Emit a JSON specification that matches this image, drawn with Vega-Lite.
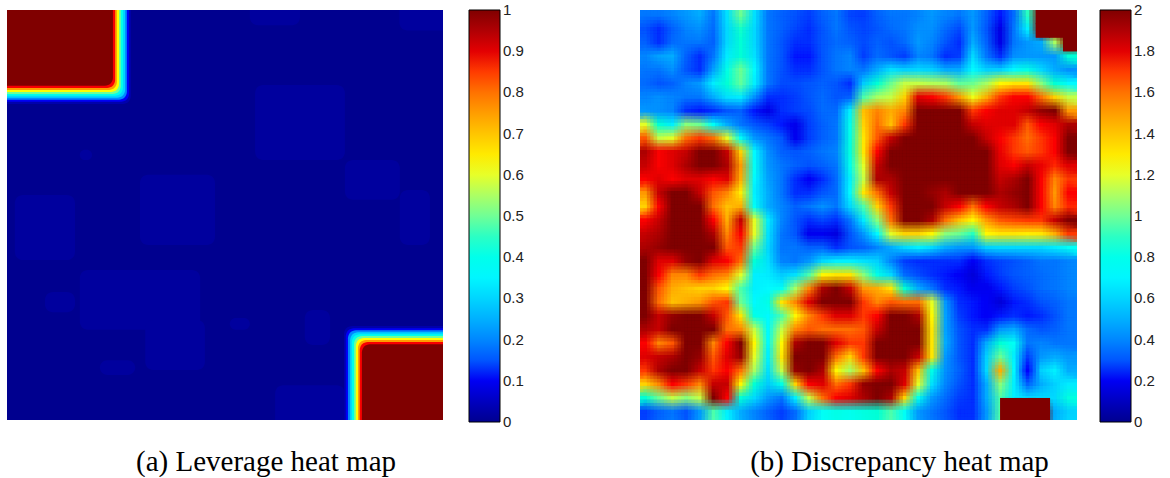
{"$schema":"https://vega.github.io/schema/vega-lite/v6.json","background":"white","padding":{"left":7,"top":10,"right":0,"bottom":0},"bounds":"flush","spacing":197,
"resolve":{"scale":{"color":"independent"},"legend":{"color":"independent"}},
"hconcat":[
{"width":436,"height":410,
"title":{"text":"(a) Leverage heat map","orient":"bottom","font":"Liberation Serif","fontSize":29,"fontWeight":"normal","color":"black","offset":18,"anchor":"middle","dx":41},
"data":{"values":[
{"x0":-5,"x1":105,"y0":-5,"y1":105,"v":0},
{"x0":56.9,"x1":77.5,"y0":18.3,"y1":36.6,"v":0.015},
{"x0":55.7,"x1":67.2,"y0":-5,"y1":3.7,"v":0.015},
{"x0":90,"x1":105,"y0":-5,"y1":5,"v":0.015},
{"x0":77.5,"x1":90.1,"y0":36.6,"y1":46.3,"v":0.015},
{"x0":90.1,"x1":97,"y0":43.9,"y1":57.3,"v":0.015},
{"x0":1.8,"x1":15.6,"y0":45.1,"y1":61,"v":0.015},
{"x0":30.5,"x1":47.7,"y0":40.2,"y1":57.3,"v":0.015},
{"x0":16.7,"x1":44.3,"y0":63.4,"y1":78,"v":0.015},
{"x0":31.7,"x1":45.4,"y0":75.6,"y1":87.8,"v":0.015},
{"x0":61.5,"x1":77.5,"y0":91.5,"y1":105,"v":0.015},
{"x0":21.3,"x1":29.4,"y0":85.4,"y1":89,"v":0.015},
{"x0":51.1,"x1":55.7,"y0":75.1,"y1":78,"v":0.015},
{"x0":8.7,"x1":15.6,"y0":68.8,"y1":73.7,"v":0.015},
{"x0":16.7,"x1":19.5,"y0":34.1,"y1":36.6,"v":0.015},
{"x0":68.3,"x1":74.1,"y0":73.2,"y1":81.7,"v":0.015},
{"x0":-5,"x1":28.4,"y0":-5,"y1":22.9,"v":0.03},
{"x0":-5,"x1":28.0,"y0":-5,"y1":22.4,"v":0.1},
{"x0":-5,"x1":27.5,"y0":-5,"y1":21.9,"v":0.2},
{"x0":-5,"x1":27.1,"y0":-5,"y1":21.4,"v":0.3},
{"x0":-5,"x1":26.6,"y0":-5,"y1":20.9,"v":0.4},
{"x0":-5,"x1":26.1,"y0":-5,"y1":20.5,"v":0.5},
{"x0":-5,"x1":25.7,"y0":-5,"y1":20.0,"v":0.62},
{"x0":-5,"x1":25.2,"y0":-5,"y1":19.5,"v":0.75},
{"x0":-5,"x1":24.8,"y0":-5,"y1":19.0,"v":0.88},
{"x0":-5,"x1":24.3,"y0":-5,"y1":18.5,"v":1},
{"x0":77.3,"x1":105,"y0":77.1,"y1":105,"v":0.03},
{"x0":77.7,"x1":105,"y0":77.6,"y1":105,"v":0.1},
{"x0":78.2,"x1":105,"y0":78.1,"y1":105,"v":0.2},
{"x0":78.7,"x1":105,"y0":78.6,"y1":105,"v":0.3},
{"x0":79.1,"x1":105,"y0":79.1,"y1":105,"v":0.4},
{"x0":79.6,"x1":105,"y0":79.5,"y1":105,"v":0.5},
{"x0":80.0,"x1":105,"y0":80.0,"y1":105,"v":0.62},
{"x0":80.5,"x1":105,"y0":80.5,"y1":105,"v":0.75},
{"x0":80.9,"x1":105,"y0":81.0,"y1":105,"v":0.88},
{"x0":81.4,"x1":105,"y0":81.5,"y1":105,"v":1}
]},
"mark":{"type":"rect","clip":true,"cornerRadius":8},
"encoding":{
"x":{"field":"x0","type":"quantitative","axis":null,"scale":{"domain":[0,100],"nice":false,"zero":false}},
"x2":{"field":"x1"},
"y":{"field":"y0","type":"quantitative","axis":null,"scale":{"domain":[0,100],"reverse":true,"nice":false,"zero":false}},
"y2":{"field":"y1"},
"color":{"field":"v","type":"quantitative","scale":{"domain":[0,0.11,0.365,0.62,0.873,1],"range":["#00008f","#0000ff","#00ffff","#ffff00","#ff0000","#800000"]},
"legend":{"orient":"none","legendX":462,"legendY":0,"title":null,"type":"gradient","direction":"vertical","gradientLength":412,"gradientThickness":31,"gradientStrokeColor":"black","gradientStrokeWidth":1,"values":[0,0.1,0.2,0.3,0.4,0.5,0.6,0.7,0.8,0.9,1],"labelFont":"Liberation Sans","labelFontSize":15,"labelColor":"#222222","labelOffset":3,"labelOverlap":false,"format":"~g","encoding":{"labels":{"baseline":{"value":"middle"}}}}}
}},
{"width":437,"height":410,
"title":{"text":"(b) Discrepancy heat map","orient":"bottom","font":"Liberation Serif","fontSize":29,"fontWeight":"normal","color":"black","offset":18,"anchor":"middle","dx":41},
"data":{"values":[
{"c":0,"r":0,"v":0.37},{"c":1,"r":0,"v":0.37},{"c":2,"r":0,"v":0.4},{"c":3,"r":0,"v":0.45},{"c":4,"r":0,"v":0.5},{"c":5,"r":0,"v":0.37},{"c":6,"r":0,"v":0.65},{"c":7,"r":0,"v":1.0},{"c":8,"r":0,"v":0.65},{"c":9,"r":0,"v":0.37},{"c":10,"r":0,"v":0.33},{"c":11,"r":0,"v":0.3},{"c":12,"r":0,"v":0.27},{"c":13,"r":0,"v":0.33},{"c":14,"r":0,"v":0.37},{"c":15,"r":0,"v":0.28},{"c":16,"r":0,"v":0.27},{"c":17,"r":0,"v":0.33},{"c":18,"r":0,"v":0.37},{"c":19,"r":0,"v":0.37},{"c":20,"r":0,"v":0.4},{"c":21,"r":0,"v":0.45},{"c":22,"r":0,"v":0.4},{"c":23,"r":0,"v":0.37},{"c":24,"r":0,"v":0.45},{"c":25,"r":0,"v":0.33},{"c":26,"r":0,"v":0.23},{"c":27,"r":0,"v":0.35},{"c":28,"r":0,"v":0.9},{"c":29,"r":0,"v":2},{"c":30,"r":0,"v":2},{"c":31,"r":0,"v":2},
{"c":0,"r":1,"v":0.3},{"c":1,"r":1,"v":0.25},{"c":2,"r":1,"v":0.33},{"c":3,"r":1,"v":0.4},{"c":4,"r":1,"v":0.43},{"c":5,"r":1,"v":0.35},{"c":6,"r":1,"v":0.62},{"c":7,"r":1,"v":0.88},{"c":8,"r":1,"v":0.62},{"c":9,"r":1,"v":0.37},{"c":10,"r":1,"v":0.33},{"c":11,"r":1,"v":0.28},{"c":12,"r":1,"v":0.25},{"c":13,"r":1,"v":0.31},{"c":14,"r":1,"v":0.37},{"c":15,"r":1,"v":0.31},{"c":16,"r":1,"v":0.28},{"c":17,"r":1,"v":0.31},{"c":18,"r":1,"v":0.35},{"c":19,"r":1,"v":0.37},{"c":20,"r":1,"v":0.43},{"c":21,"r":1,"v":0.43},{"c":22,"r":1,"v":0.35},{"c":23,"r":1,"v":0.29},{"c":24,"r":1,"v":0.45},{"c":25,"r":1,"v":0.31},{"c":26,"r":1,"v":0.18},{"c":27,"r":1,"v":0.37},{"c":28,"r":1,"v":0.7},{"c":29,"r":1,"v":2},{"c":30,"r":1,"v":2},{"c":31,"r":1,"v":2},
{"c":0,"r":2,"v":0.33},{"c":1,"r":2,"v":0.25},{"c":2,"r":2,"v":0.35},{"c":3,"r":2,"v":0.37},{"c":4,"r":2,"v":0.37},{"c":5,"r":2,"v":0.33},{"c":6,"r":2,"v":0.62},{"c":7,"r":2,"v":0.85},{"c":8,"r":2,"v":0.62},{"c":9,"r":2,"v":0.37},{"c":10,"r":2,"v":0.31},{"c":11,"r":2,"v":0.25},{"c":12,"r":2,"v":0.25},{"c":13,"r":2,"v":0.31},{"c":14,"r":2,"v":0.35},{"c":15,"r":2,"v":0.33},{"c":16,"r":2,"v":0.29},{"c":17,"r":2,"v":0.33},{"c":18,"r":2,"v":0.3},{"c":19,"r":2,"v":0.35},{"c":20,"r":2,"v":0.45},{"c":21,"r":2,"v":0.4},{"c":22,"r":2,"v":0.31},{"c":23,"r":2,"v":0.25},{"c":24,"r":2,"v":0.5},{"c":25,"r":2,"v":0.33},{"c":26,"r":2,"v":0.18},{"c":27,"r":2,"v":0.37},{"c":28,"r":2,"v":0.45},{"c":29,"r":2,"v":0.5},{"c":30,"r":2,"v":1.1},{"c":31,"r":2,"v":2},
{"c":0,"r":3,"v":0.4},{"c":1,"r":3,"v":0.47},{"c":2,"r":3,"v":0.5},{"c":3,"r":3,"v":0.33},{"c":4,"r":3,"v":0.25},{"c":5,"r":3,"v":0.37},{"c":6,"r":3,"v":0.68},{"c":7,"r":3,"v":0.85},{"c":8,"r":3,"v":0.65},{"c":9,"r":3,"v":0.37},{"c":10,"r":3,"v":0.31},{"c":11,"r":3,"v":0.23},{"c":12,"r":3,"v":0.23},{"c":13,"r":3,"v":0.31},{"c":14,"r":3,"v":0.37},{"c":15,"r":3,"v":0.4},{"c":16,"r":3,"v":0.27},{"c":17,"r":3,"v":0.35},{"c":18,"r":3,"v":0.31},{"c":19,"r":3,"v":0.27},{"c":20,"r":3,"v":0.4},{"c":21,"r":3,"v":0.37},{"c":22,"r":3,"v":0.25},{"c":23,"r":3,"v":0.27},{"c":24,"r":3,"v":0.62},{"c":25,"r":3,"v":0.37},{"c":26,"r":3,"v":0.25},{"c":27,"r":3,"v":0.43},{"c":28,"r":3,"v":0.45},{"c":29,"r":3,"v":0.45},{"c":30,"r":3,"v":0.45},{"c":31,"r":3,"v":0.85},
{"c":0,"r":4,"v":0.37},{"c":1,"r":4,"v":0.37},{"c":2,"r":4,"v":0.43},{"c":3,"r":4,"v":0.31},{"c":4,"r":4,"v":0.25},{"c":5,"r":4,"v":0.47},{"c":6,"r":4,"v":0.8},{"c":7,"r":4,"v":1.0},{"c":8,"r":4,"v":0.72},{"c":9,"r":4,"v":0.37},{"c":10,"r":4,"v":0.3},{"c":11,"r":4,"v":0.25},{"c":12,"r":4,"v":0.25},{"c":13,"r":4,"v":0.31},{"c":14,"r":4,"v":0.37},{"c":15,"r":4,"v":0.4},{"c":16,"r":4,"v":0.37},{"c":17,"r":4,"v":0.5},{"c":18,"r":4,"v":0.65},{"c":19,"r":4,"v":0.6},{"c":20,"r":4,"v":0.62},{"c":21,"r":4,"v":0.6},{"c":22,"r":4,"v":0.5},{"c":23,"r":4,"v":0.5},{"c":24,"r":4,"v":0.72},{"c":25,"r":4,"v":0.6},{"c":26,"r":4,"v":0.6},{"c":27,"r":4,"v":0.72},{"c":28,"r":4,"v":0.8},{"c":29,"r":4,"v":0.62},{"c":30,"r":4,"v":0.5},{"c":31,"r":4,"v":0.43},
{"c":0,"r":5,"v":0.35},{"c":1,"r":5,"v":0.31},{"c":2,"r":5,"v":0.33},{"c":3,"r":5,"v":0.4},{"c":4,"r":5,"v":0.45},{"c":5,"r":5,"v":0.68},{"c":6,"r":5,"v":0.85},{"c":7,"r":5,"v":0.98},{"c":8,"r":5,"v":0.7},{"c":9,"r":5,"v":0.37},{"c":10,"r":5,"v":0.29},{"c":11,"r":5,"v":0.29},{"c":12,"r":5,"v":0.31},{"c":13,"r":5,"v":0.33},{"c":14,"r":5,"v":0.31},{"c":15,"r":5,"v":0.25},{"c":16,"r":5,"v":0.58},{"c":17,"r":5,"v":0.85},{"c":18,"r":5,"v":1.0},{"c":19,"r":5,"v":1.15},{"c":20,"r":5,"v":1.15},{"c":21,"r":5,"v":1.12},{"c":22,"r":5,"v":1.1},{"c":23,"r":5,"v":0.98},{"c":24,"r":5,"v":1.0},{"c":25,"r":5,"v":1.1},{"c":26,"r":5,"v":1.25},{"c":27,"r":5,"v":1.3},{"c":28,"r":5,"v":1.3},{"c":29,"r":5,"v":1.05},{"c":30,"r":5,"v":0.85},{"c":31,"r":5,"v":0.72},
{"c":0,"r":6,"v":0.4},{"c":1,"r":6,"v":0.43},{"c":2,"r":6,"v":0.4},{"c":3,"r":6,"v":0.37},{"c":4,"r":6,"v":0.37},{"c":5,"r":6,"v":0.5},{"c":6,"r":6,"v":0.65},{"c":7,"r":6,"v":0.68},{"c":8,"r":6,"v":0.43},{"c":9,"r":6,"v":0.25},{"c":10,"r":6,"v":0.25},{"c":11,"r":6,"v":0.27},{"c":12,"r":6,"v":0.31},{"c":13,"r":6,"v":0.35},{"c":14,"r":6,"v":0.31},{"c":15,"r":6,"v":0.33},{"c":16,"r":6,"v":0.95},{"c":17,"r":6,"v":1.1},{"c":18,"r":6,"v":1.15},{"c":19,"r":6,"v":1.35},{"c":20,"r":6,"v":1.8},{"c":21,"r":6,"v":1.75},{"c":22,"r":6,"v":1.7},{"c":23,"r":6,"v":1.5},{"c":24,"r":6,"v":1.22},{"c":25,"r":6,"v":1.45},{"c":26,"r":6,"v":1.7},{"c":27,"r":6,"v":1.75},{"c":28,"r":6,"v":1.75},{"c":29,"r":6,"v":1.6},{"c":30,"r":6,"v":1.35},{"c":31,"r":6,"v":1.15},
{"c":0,"r":7,"v":0.45},{"c":1,"r":7,"v":0.43},{"c":2,"r":7,"v":0.4},{"c":3,"r":7,"v":0.25},{"c":4,"r":7,"v":0.23},{"c":5,"r":7,"v":0.25},{"c":6,"r":7,"v":0.31},{"c":7,"r":7,"v":0.33},{"c":8,"r":7,"v":0.23},{"c":9,"r":7,"v":0.18},{"c":10,"r":7,"v":0.25},{"c":11,"r":7,"v":0.27},{"c":12,"r":7,"v":0.29},{"c":13,"r":7,"v":0.35},{"c":14,"r":7,"v":0.35},{"c":15,"r":7,"v":0.7},{"c":16,"r":7,"v":1.4},{"c":17,"r":7,"v":1.55},{"c":18,"r":7,"v":1.45},{"c":19,"r":7,"v":1.55},{"c":20,"r":7,"v":2},{"c":21,"r":7,"v":2},{"c":22,"r":7,"v":2},{"c":23,"r":7,"v":2},{"c":24,"r":7,"v":1.7},{"c":25,"r":7,"v":1.75},{"c":26,"r":7,"v":1.8},{"c":27,"r":7,"v":1.8},{"c":28,"r":7,"v":1.85},{"c":29,"r":7,"v":1.95},{"c":30,"r":7,"v":2},{"c":31,"r":7,"v":1.5},
{"c":0,"r":8,"v":1.2},{"c":1,"r":8,"v":0.85},{"c":2,"r":8,"v":0.7},{"c":3,"r":8,"v":1.05},{"c":4,"r":8,"v":1.0},{"c":5,"r":8,"v":0.75},{"c":6,"r":8,"v":0.5},{"c":7,"r":8,"v":0.37},{"c":8,"r":8,"v":0.31},{"c":9,"r":8,"v":0.27},{"c":10,"r":8,"v":0.23},{"c":11,"r":8,"v":0.19},{"c":12,"r":8,"v":0.27},{"c":13,"r":8,"v":0.33},{"c":14,"r":8,"v":0.37},{"c":15,"r":8,"v":0.78},{"c":16,"r":8,"v":1.35},{"c":17,"r":8,"v":1.6},{"c":18,"r":8,"v":1.4},{"c":19,"r":8,"v":1.7},{"c":20,"r":8,"v":2},{"c":21,"r":8,"v":2},{"c":22,"r":8,"v":2},{"c":23,"r":8,"v":2},{"c":24,"r":8,"v":1.85},{"c":25,"r":8,"v":1.8},{"c":26,"r":8,"v":1.8},{"c":27,"r":8,"v":1.8},{"c":28,"r":8,"v":1.65},{"c":29,"r":8,"v":1.75},{"c":30,"r":8,"v":1.8},{"c":31,"r":8,"v":1.9},
{"c":0,"r":9,"v":1.65},{"c":1,"r":9,"v":1.15},{"c":2,"r":9,"v":1.2},{"c":3,"r":9,"v":1.6},{"c":4,"r":9,"v":1.7},{"c":5,"r":9,"v":1.6},{"c":6,"r":9,"v":1.2},{"c":7,"r":9,"v":0.75},{"c":8,"r":9,"v":0.45},{"c":9,"r":9,"v":0.37},{"c":10,"r":9,"v":0.31},{"c":11,"r":9,"v":0.2},{"c":12,"r":9,"v":0.27},{"c":13,"r":9,"v":0.33},{"c":14,"r":9,"v":0.37},{"c":15,"r":9,"v":0.8},{"c":16,"r":9,"v":1.3},{"c":17,"r":9,"v":1.65},{"c":18,"r":9,"v":1.85},{"c":19,"r":9,"v":2},{"c":20,"r":9,"v":2},{"c":21,"r":9,"v":2},{"c":22,"r":9,"v":2},{"c":23,"r":9,"v":2},{"c":24,"r":9,"v":2},{"c":25,"r":9,"v":1.85},{"c":26,"r":9,"v":1.75},{"c":27,"r":9,"v":1.7},{"c":28,"r":9,"v":1.6},{"c":29,"r":9,"v":1.7},{"c":30,"r":9,"v":1.75},{"c":31,"r":9,"v":2},
{"c":0,"r":10,"v":1.9},{"c":1,"r":10,"v":1.75},{"c":2,"r":10,"v":1.8},{"c":3,"r":10,"v":1.85},{"c":4,"r":10,"v":2},{"c":5,"r":10,"v":2},{"c":6,"r":10,"v":1.85},{"c":7,"r":10,"v":1.35},{"c":8,"r":10,"v":0.72},{"c":9,"r":10,"v":0.43},{"c":10,"r":10,"v":0.33},{"c":11,"r":10,"v":0.31},{"c":12,"r":10,"v":0.33},{"c":13,"r":10,"v":0.37},{"c":14,"r":10,"v":0.4},{"c":15,"r":10,"v":0.82},{"c":16,"r":10,"v":1.3},{"c":17,"r":10,"v":1.75},{"c":18,"r":10,"v":2},{"c":19,"r":10,"v":2},{"c":20,"r":10,"v":2},{"c":21,"r":10,"v":2},{"c":22,"r":10,"v":2},{"c":23,"r":10,"v":2},{"c":24,"r":10,"v":2},{"c":25,"r":10,"v":2},{"c":26,"r":10,"v":1.78},{"c":27,"r":10,"v":1.7},{"c":28,"r":10,"v":1.65},{"c":29,"r":10,"v":1.7},{"c":30,"r":10,"v":1.75},{"c":31,"r":10,"v":2},
{"c":0,"r":11,"v":1.85},{"c":1,"r":11,"v":1.75},{"c":2,"r":11,"v":1.8},{"c":3,"r":11,"v":1.9},{"c":4,"r":11,"v":2},{"c":5,"r":11,"v":2},{"c":6,"r":11,"v":1.9},{"c":7,"r":11,"v":1.5},{"c":8,"r":11,"v":0.75},{"c":9,"r":11,"v":0.45},{"c":10,"r":11,"v":0.37},{"c":11,"r":11,"v":0.33},{"c":12,"r":11,"v":0.3},{"c":13,"r":11,"v":0.33},{"c":14,"r":11,"v":0.37},{"c":15,"r":11,"v":0.78},{"c":16,"r":11,"v":1.2},{"c":17,"r":11,"v":1.85},{"c":18,"r":11,"v":2},{"c":19,"r":11,"v":2},{"c":20,"r":11,"v":2},{"c":21,"r":11,"v":2},{"c":22,"r":11,"v":2},{"c":23,"r":11,"v":2},{"c":24,"r":11,"v":2},{"c":25,"r":11,"v":2},{"c":26,"r":11,"v":1.8},{"c":27,"r":11,"v":1.75},{"c":28,"r":11,"v":1.85},{"c":29,"r":11,"v":1.78},{"c":30,"r":11,"v":1.72},{"c":31,"r":11,"v":1.8},
{"c":0,"r":12,"v":1.75},{"c":1,"r":12,"v":1.8},{"c":2,"r":12,"v":1.75},{"c":3,"r":12,"v":1.8},{"c":4,"r":12,"v":1.8},{"c":5,"r":12,"v":1.75},{"c":6,"r":12,"v":1.8},{"c":7,"r":12,"v":1.45},{"c":8,"r":12,"v":0.72},{"c":9,"r":12,"v":0.47},{"c":10,"r":12,"v":0.37},{"c":11,"r":12,"v":0.25},{"c":12,"r":12,"v":0.21},{"c":13,"r":12,"v":0.25},{"c":14,"r":12,"v":0.35},{"c":15,"r":12,"v":0.7},{"c":16,"r":12,"v":1.15},{"c":17,"r":12,"v":1.9},{"c":18,"r":12,"v":1.9},{"c":19,"r":12,"v":2},{"c":20,"r":12,"v":2},{"c":21,"r":12,"v":2},{"c":22,"r":12,"v":2},{"c":23,"r":12,"v":2},{"c":24,"r":12,"v":2},{"c":25,"r":12,"v":2},{"c":26,"r":12,"v":1.85},{"c":27,"r":12,"v":1.9},{"c":28,"r":12,"v":2},{"c":29,"r":12,"v":1.75},{"c":30,"r":12,"v":1.55},{"c":31,"r":12,"v":1.7},
{"c":0,"r":13,"v":1.5},{"c":1,"r":13,"v":1.85},{"c":2,"r":13,"v":2},{"c":3,"r":13,"v":2},{"c":4,"r":13,"v":1.85},{"c":5,"r":13,"v":1.65},{"c":6,"r":13,"v":1.55},{"c":7,"r":13,"v":1.28},{"c":8,"r":13,"v":0.7},{"c":9,"r":13,"v":0.5},{"c":10,"r":13,"v":0.37},{"c":11,"r":13,"v":0.25},{"c":12,"r":13,"v":0.25},{"c":13,"r":13,"v":0.31},{"c":14,"r":13,"v":0.35},{"c":15,"r":13,"v":0.72},{"c":16,"r":13,"v":1.3},{"c":17,"r":13,"v":1.6},{"c":18,"r":13,"v":1.85},{"c":19,"r":13,"v":2},{"c":20,"r":13,"v":2},{"c":21,"r":13,"v":1.95},{"c":22,"r":13,"v":1.9},{"c":23,"r":13,"v":2},{"c":24,"r":13,"v":2},{"c":25,"r":13,"v":2},{"c":26,"r":13,"v":1.9},{"c":27,"r":13,"v":1.95},{"c":28,"r":13,"v":2},{"c":29,"r":13,"v":1.75},{"c":30,"r":13,"v":1.5},{"c":31,"r":13,"v":1.75},
{"c":0,"r":14,"v":1.35},{"c":1,"r":14,"v":1.75},{"c":2,"r":14,"v":2},{"c":3,"r":14,"v":2},{"c":4,"r":14,"v":2},{"c":5,"r":14,"v":1.6},{"c":6,"r":14,"v":1.4},{"c":7,"r":14,"v":1.45},{"c":8,"r":14,"v":0.75},{"c":9,"r":14,"v":0.5},{"c":10,"r":14,"v":0.4},{"c":11,"r":14,"v":0.33},{"c":12,"r":14,"v":0.37},{"c":13,"r":14,"v":0.43},{"c":14,"r":14,"v":0.37},{"c":15,"r":14,"v":0.62},{"c":16,"r":14,"v":0.95},{"c":17,"r":14,"v":1.35},{"c":18,"r":14,"v":1.7},{"c":19,"r":14,"v":2},{"c":20,"r":14,"v":2},{"c":21,"r":14,"v":2},{"c":22,"r":14,"v":1.85},{"c":23,"r":14,"v":1.75},{"c":24,"r":14,"v":1.6},{"c":25,"r":14,"v":1.75},{"c":26,"r":14,"v":1.85},{"c":27,"r":14,"v":1.9},{"c":28,"r":14,"v":2},{"c":29,"r":14,"v":1.75},{"c":30,"r":14,"v":1.55},{"c":31,"r":14,"v":1.72},
{"c":0,"r":15,"v":1.75},{"c":1,"r":15,"v":1.85},{"c":2,"r":15,"v":2},{"c":3,"r":15,"v":2},{"c":4,"r":15,"v":2},{"c":5,"r":15,"v":1.75},{"c":6,"r":15,"v":1.45},{"c":7,"r":15,"v":1.85},{"c":8,"r":15,"v":1.2},{"c":9,"r":15,"v":0.68},{"c":10,"r":15,"v":0.4},{"c":11,"r":15,"v":0.31},{"c":12,"r":15,"v":0.25},{"c":13,"r":15,"v":0.28},{"c":14,"r":15,"v":0.25},{"c":15,"r":15,"v":0.37},{"c":16,"r":15,"v":0.68},{"c":17,"r":15,"v":1.05},{"c":18,"r":15,"v":1.6},{"c":19,"r":15,"v":2},{"c":20,"r":15,"v":2},{"c":21,"r":15,"v":1.9},{"c":22,"r":15,"v":1.6},{"c":23,"r":15,"v":1.4},{"c":24,"r":15,"v":1.25},{"c":25,"r":15,"v":1.5},{"c":26,"r":15,"v":1.65},{"c":27,"r":15,"v":1.68},{"c":28,"r":15,"v":1.7},{"c":29,"r":15,"v":1.7},{"c":30,"r":15,"v":1.85},{"c":31,"r":15,"v":2},
{"c":0,"r":16,"v":1.85},{"c":1,"r":16,"v":1.9},{"c":2,"r":16,"v":2},{"c":3,"r":16,"v":2},{"c":4,"r":16,"v":2},{"c":5,"r":16,"v":1.9},{"c":6,"r":16,"v":1.55},{"c":7,"r":16,"v":1.75},{"c":8,"r":16,"v":1.2},{"c":9,"r":16,"v":0.65},{"c":10,"r":16,"v":0.37},{"c":11,"r":16,"v":0.31},{"c":12,"r":16,"v":0.2},{"c":13,"r":16,"v":0.2},{"c":14,"r":16,"v":0.17},{"c":15,"r":16,"v":0.3},{"c":16,"r":16,"v":0.45},{"c":17,"r":16,"v":0.72},{"c":18,"r":16,"v":1.2},{"c":19,"r":16,"v":1.35},{"c":20,"r":16,"v":1.35},{"c":21,"r":16,"v":1.25},{"c":22,"r":16,"v":1.05},{"c":23,"r":16,"v":1.0},{"c":24,"r":16,"v":0.9},{"c":25,"r":16,"v":1.25},{"c":26,"r":16,"v":1.3},{"c":27,"r":16,"v":1.3},{"c":28,"r":16,"v":1.28},{"c":29,"r":16,"v":1.3},{"c":30,"r":16,"v":1.45},{"c":31,"r":16,"v":1.7},
{"c":0,"r":17,"v":1.9},{"c":1,"r":17,"v":1.95},{"c":2,"r":17,"v":2},{"c":3,"r":17,"v":2},{"c":4,"r":17,"v":2},{"c":5,"r":17,"v":2},{"c":6,"r":17,"v":1.65},{"c":7,"r":17,"v":1.7},{"c":8,"r":17,"v":1.0},{"c":9,"r":17,"v":0.62},{"c":10,"r":17,"v":0.37},{"c":11,"r":17,"v":0.37},{"c":12,"r":17,"v":0.33},{"c":13,"r":17,"v":0.33},{"c":14,"r":17,"v":0.25},{"c":15,"r":17,"v":0.3},{"c":16,"r":17,"v":0.33},{"c":17,"r":17,"v":0.4},{"c":18,"r":17,"v":0.5},{"c":19,"r":17,"v":0.62},{"c":20,"r":17,"v":0.7},{"c":21,"r":17,"v":0.62},{"c":22,"r":17,"v":0.5},{"c":23,"r":17,"v":0.45},{"c":24,"r":17,"v":0.45},{"c":25,"r":17,"v":0.6},{"c":26,"r":17,"v":0.62},{"c":27,"r":17,"v":0.62},{"c":28,"r":17,"v":0.62},{"c":29,"r":17,"v":0.62},{"c":30,"r":17,"v":0.68},{"c":31,"r":17,"v":0.75},
{"c":0,"r":18,"v":2},{"c":1,"r":18,"v":1.8},{"c":2,"r":18,"v":1.8},{"c":3,"r":18,"v":1.95},{"c":4,"r":18,"v":2},{"c":5,"r":18,"v":1.8},{"c":6,"r":18,"v":1.75},{"c":7,"r":18,"v":1.6},{"c":8,"r":18,"v":0.85},{"c":9,"r":18,"v":0.65},{"c":10,"r":18,"v":0.4},{"c":11,"r":18,"v":0.37},{"c":12,"r":18,"v":0.45},{"c":13,"r":18,"v":0.62},{"c":14,"r":18,"v":0.7},{"c":15,"r":18,"v":0.7},{"c":16,"r":18,"v":0.65},{"c":17,"r":18,"v":0.6},{"c":18,"r":18,"v":0.4},{"c":19,"r":18,"v":0.27},{"c":20,"r":18,"v":0.25},{"c":21,"r":18,"v":0.25},{"c":22,"r":18,"v":0.25},{"c":23,"r":18,"v":0.25},{"c":24,"r":18,"v":0.21},{"c":25,"r":18,"v":0.25},{"c":26,"r":18,"v":0.28},{"c":27,"r":18,"v":0.3},{"c":28,"r":18,"v":0.33},{"c":29,"r":18,"v":0.37},{"c":30,"r":18,"v":0.37},{"c":31,"r":18,"v":0.4},
{"c":0,"r":19,"v":2},{"c":1,"r":19,"v":1.75},{"c":2,"r":19,"v":1.55},{"c":3,"r":19,"v":1.55},{"c":4,"r":19,"v":1.7},{"c":5,"r":19,"v":1.6},{"c":6,"r":19,"v":1.55},{"c":7,"r":19,"v":1.2},{"c":8,"r":19,"v":0.7},{"c":9,"r":19,"v":0.68},{"c":10,"r":19,"v":0.58},{"c":11,"r":19,"v":0.65},{"c":12,"r":19,"v":0.95},{"c":13,"r":19,"v":1.25},{"c":14,"r":19,"v":1.3},{"c":15,"r":19,"v":1.3},{"c":16,"r":19,"v":1.05},{"c":17,"r":19,"v":0.8},{"c":18,"r":19,"v":0.62},{"c":19,"r":19,"v":0.35},{"c":20,"r":19,"v":0.29},{"c":21,"r":19,"v":0.25},{"c":22,"r":19,"v":0.23},{"c":23,"r":19,"v":0.21},{"c":24,"r":19,"v":0.16},{"c":25,"r":19,"v":0.23},{"c":26,"r":19,"v":0.27},{"c":27,"r":19,"v":0.31},{"c":28,"r":19,"v":0.33},{"c":29,"r":19,"v":0.35},{"c":30,"r":19,"v":0.37},{"c":31,"r":19,"v":0.4},
{"c":0,"r":20,"v":2},{"c":1,"r":20,"v":1.65},{"c":2,"r":20,"v":1.45},{"c":3,"r":20,"v":1.4},{"c":4,"r":20,"v":1.35},{"c":5,"r":20,"v":1.35},{"c":6,"r":20,"v":1.25},{"c":7,"r":20,"v":0.95},{"c":8,"r":20,"v":0.7},{"c":9,"r":20,"v":0.72},{"c":10,"r":20,"v":0.75},{"c":11,"r":20,"v":1.1},{"c":12,"r":20,"v":1.55},{"c":13,"r":20,"v":1.9},{"c":14,"r":20,"v":2},{"c":15,"r":20,"v":1.85},{"c":16,"r":20,"v":1.5},{"c":17,"r":20,"v":1.45},{"c":18,"r":20,"v":1.3},{"c":19,"r":20,"v":0.85},{"c":20,"r":20,"v":0.5},{"c":21,"r":20,"v":0.37},{"c":22,"r":20,"v":0.25},{"c":23,"r":20,"v":0.23},{"c":24,"r":20,"v":0.2},{"c":25,"r":20,"v":0.2},{"c":26,"r":20,"v":0.23},{"c":27,"r":20,"v":0.27},{"c":28,"r":20,"v":0.3},{"c":29,"r":20,"v":0.35},{"c":30,"r":20,"v":0.37},{"c":31,"r":20,"v":0.4},
{"c":0,"r":21,"v":2},{"c":1,"r":21,"v":1.6},{"c":2,"r":21,"v":1.4},{"c":3,"r":21,"v":1.45},{"c":4,"r":21,"v":1.5},{"c":5,"r":21,"v":1.65},{"c":6,"r":21,"v":1.7},{"c":7,"r":21,"v":1.0},{"c":8,"r":21,"v":0.72},{"c":9,"r":21,"v":0.8},{"c":10,"r":21,"v":1.3},{"c":11,"r":21,"v":1.55},{"c":12,"r":21,"v":1.8},{"c":13,"r":21,"v":2},{"c":14,"r":21,"v":2},{"c":15,"r":21,"v":2},{"c":16,"r":21,"v":1.7},{"c":17,"r":21,"v":1.55},{"c":18,"r":21,"v":1.65},{"c":19,"r":21,"v":1.6},{"c":20,"r":21,"v":1.6},{"c":21,"r":21,"v":1.2},{"c":22,"r":21,"v":0.45},{"c":23,"r":21,"v":0.25},{"c":24,"r":21,"v":0.23},{"c":25,"r":21,"v":0.21},{"c":26,"r":21,"v":0.16},{"c":27,"r":21,"v":0.23},{"c":28,"r":21,"v":0.25},{"c":29,"r":21,"v":0.3},{"c":30,"r":21,"v":0.33},{"c":31,"r":21,"v":0.37},
{"c":0,"r":22,"v":2},{"c":1,"r":22,"v":1.85},{"c":2,"r":22,"v":1.95},{"c":3,"r":22,"v":2},{"c":4,"r":22,"v":2},{"c":5,"r":22,"v":1.85},{"c":6,"r":22,"v":1.65},{"c":7,"r":22,"v":1.3},{"c":8,"r":22,"v":0.8},{"c":9,"r":22,"v":0.72},{"c":10,"r":22,"v":0.95},{"c":11,"r":22,"v":1.25},{"c":12,"r":22,"v":1.55},{"c":13,"r":22,"v":1.7},{"c":14,"r":22,"v":1.8},{"c":15,"r":22,"v":1.8},{"c":16,"r":22,"v":1.7},{"c":17,"r":22,"v":1.75},{"c":18,"r":22,"v":2},{"c":19,"r":22,"v":2},{"c":20,"r":22,"v":1.9},{"c":21,"r":22,"v":1.25},{"c":22,"r":22,"v":0.47},{"c":23,"r":22,"v":0.27},{"c":24,"r":22,"v":0.23},{"c":25,"r":22,"v":0.21},{"c":26,"r":22,"v":0.23},{"c":27,"r":22,"v":0.25},{"c":28,"r":22,"v":0.23},{"c":29,"r":22,"v":0.25},{"c":30,"r":22,"v":0.3},{"c":31,"r":22,"v":0.37},
{"c":0,"r":23,"v":1.9},{"c":1,"r":23,"v":1.85},{"c":2,"r":23,"v":2},{"c":3,"r":23,"v":2},{"c":4,"r":23,"v":2},{"c":5,"r":23,"v":2},{"c":6,"r":23,"v":1.6},{"c":7,"r":23,"v":1.55},{"c":8,"r":23,"v":1.15},{"c":9,"r":23,"v":0.72},{"c":10,"r":23,"v":1.15},{"c":11,"r":23,"v":1.55},{"c":12,"r":23,"v":1.65},{"c":13,"r":23,"v":1.6},{"c":14,"r":23,"v":1.6},{"c":15,"r":23,"v":1.6},{"c":16,"r":23,"v":1.65},{"c":17,"r":23,"v":1.85},{"c":18,"r":23,"v":2},{"c":19,"r":23,"v":2},{"c":20,"r":23,"v":2},{"c":21,"r":23,"v":1.3},{"c":22,"r":23,"v":0.47},{"c":23,"r":23,"v":0.3},{"c":24,"r":23,"v":0.25},{"c":25,"r":23,"v":0.25},{"c":26,"r":23,"v":0.45},{"c":27,"r":23,"v":0.5},{"c":28,"r":23,"v":0.35},{"c":29,"r":23,"v":0.31},{"c":30,"r":23,"v":0.33},{"c":31,"r":23,"v":0.37},
{"c":0,"r":24,"v":1.75},{"c":1,"r":24,"v":1.55},{"c":2,"r":24,"v":1.65},{"c":3,"r":24,"v":2},{"c":4,"r":24,"v":2},{"c":5,"r":24,"v":1.55},{"c":6,"r":24,"v":1.75},{"c":7,"r":24,"v":2},{"c":8,"r":24,"v":1.25},{"c":9,"r":24,"v":0.72},{"c":10,"r":24,"v":1.25},{"c":11,"r":24,"v":1.9},{"c":12,"r":24,"v":2},{"c":13,"r":24,"v":2},{"c":14,"r":24,"v":1.8},{"c":15,"r":24,"v":1.7},{"c":16,"r":24,"v":1.7},{"c":17,"r":24,"v":2},{"c":18,"r":24,"v":2},{"c":19,"r":24,"v":2},{"c":20,"r":24,"v":2},{"c":21,"r":24,"v":1.3},{"c":22,"r":24,"v":0.5},{"c":23,"r":24,"v":0.31},{"c":24,"r":24,"v":0.25},{"c":25,"r":24,"v":0.5},{"c":26,"r":24,"v":0.85},{"c":27,"r":24,"v":0.75},{"c":28,"r":24,"v":0.37},{"c":29,"r":24,"v":0.4},{"c":30,"r":24,"v":0.37},{"c":31,"r":24,"v":0.37},
{"c":0,"r":25,"v":1.8},{"c":1,"r":25,"v":1.85},{"c":2,"r":25,"v":1.9},{"c":3,"r":25,"v":2},{"c":4,"r":25,"v":1.95},{"c":5,"r":25,"v":1.65},{"c":6,"r":25,"v":1.8},{"c":7,"r":25,"v":1.95},{"c":8,"r":25,"v":1.2},{"c":9,"r":25,"v":0.7},{"c":10,"r":25,"v":1.3},{"c":11,"r":25,"v":2},{"c":12,"r":25,"v":2},{"c":13,"r":25,"v":2},{"c":14,"r":25,"v":1.6},{"c":15,"r":25,"v":1.35},{"c":16,"r":25,"v":1.7},{"c":17,"r":25,"v":2},{"c":18,"r":25,"v":2},{"c":19,"r":25,"v":2},{"c":20,"r":25,"v":1.85},{"c":21,"r":25,"v":1.3},{"c":22,"r":25,"v":0.45},{"c":23,"r":25,"v":0.31},{"c":24,"r":25,"v":0.25},{"c":25,"r":25,"v":0.6},{"c":26,"r":25,"v":1.0},{"c":27,"r":25,"v":0.7},{"c":28,"r":25,"v":0.27},{"c":29,"r":25,"v":0.45},{"c":30,"r":25,"v":0.5},{"c":31,"r":25,"v":0.45},
{"c":0,"r":26,"v":1.7},{"c":1,"r":26,"v":1.9},{"c":2,"r":26,"v":2},{"c":3,"r":26,"v":2},{"c":4,"r":26,"v":1.85},{"c":5,"r":26,"v":1.7},{"c":6,"r":26,"v":1.75},{"c":7,"r":26,"v":1.6},{"c":8,"r":26,"v":1.1},{"c":9,"r":26,"v":0.65},{"c":10,"r":26,"v":1.15},{"c":11,"r":26,"v":1.95},{"c":12,"r":26,"v":2},{"c":13,"r":26,"v":1.9},{"c":14,"r":26,"v":1.25},{"c":15,"r":26,"v":1.1},{"c":16,"r":26,"v":1.4},{"c":17,"r":26,"v":1.75},{"c":18,"r":26,"v":1.9},{"c":19,"r":26,"v":1.85},{"c":20,"r":26,"v":1.4},{"c":21,"r":26,"v":0.8},{"c":22,"r":26,"v":0.43},{"c":23,"r":26,"v":0.33},{"c":24,"r":26,"v":0.25},{"c":25,"r":26,"v":0.62},{"c":26,"r":26,"v":1.45},{"c":27,"r":26,"v":0.72},{"c":28,"r":26,"v":0.22},{"c":29,"r":26,"v":0.6},{"c":30,"r":26,"v":0.7},{"c":31,"r":26,"v":0.5},
{"c":0,"r":27,"v":1.35},{"c":1,"r":27,"v":1.55},{"c":2,"r":27,"v":1.75},{"c":3,"r":27,"v":1.7},{"c":4,"r":27,"v":1.55},{"c":5,"r":27,"v":1.85},{"c":6,"r":27,"v":1.85},{"c":7,"r":27,"v":1.25},{"c":8,"r":27,"v":0.85},{"c":9,"r":27,"v":0.58},{"c":10,"r":27,"v":0.8},{"c":11,"r":27,"v":1.35},{"c":12,"r":27,"v":1.75},{"c":13,"r":27,"v":1.8},{"c":14,"r":27,"v":1.6},{"c":15,"r":27,"v":1.7},{"c":16,"r":27,"v":1.95},{"c":17,"r":27,"v":2},{"c":18,"r":27,"v":2},{"c":19,"r":27,"v":1.8},{"c":20,"r":27,"v":1.2},{"c":21,"r":27,"v":0.65},{"c":22,"r":27,"v":0.4},{"c":23,"r":27,"v":0.3},{"c":24,"r":27,"v":0.25},{"c":25,"r":27,"v":0.5},{"c":26,"r":27,"v":1.05},{"c":27,"r":27,"v":0.7},{"c":28,"r":27,"v":0.33},{"c":29,"r":27,"v":0.5},{"c":30,"r":27,"v":0.6},{"c":31,"r":27,"v":0.68},
{"c":0,"r":28,"v":0.85},{"c":1,"r":28,"v":1.0},{"c":2,"r":28,"v":1.15},{"c":3,"r":28,"v":1.05},{"c":4,"r":28,"v":1.15},{"c":5,"r":28,"v":2},{"c":6,"r":28,"v":1.75},{"c":7,"r":28,"v":0.85},{"c":8,"r":28,"v":0.62},{"c":9,"r":28,"v":0.45},{"c":10,"r":28,"v":0.37},{"c":11,"r":28,"v":0.7},{"c":12,"r":28,"v":1.15},{"c":13,"r":28,"v":1.6},{"c":14,"r":28,"v":1.75},{"c":15,"r":28,"v":1.8},{"c":16,"r":28,"v":1.9},{"c":17,"r":28,"v":2},{"c":18,"r":28,"v":1.9},{"c":19,"r":28,"v":1.35},{"c":20,"r":28,"v":0.78},{"c":21,"r":28,"v":0.45},{"c":22,"r":28,"v":0.35},{"c":23,"r":28,"v":0.27},{"c":24,"r":28,"v":0.25},{"c":25,"r":28,"v":0.5},{"c":26,"r":28,"v":0.95},{"c":27,"r":28,"v":0.7},{"c":28,"r":28,"v":0.62},{"c":29,"r":28,"v":0.62},{"c":30,"r":28,"v":0.62},{"c":31,"r":28,"v":0.82},
{"c":0,"r":29,"v":0.27},{"c":1,"r":29,"v":0.33},{"c":2,"r":29,"v":0.37},{"c":3,"r":29,"v":0.3},{"c":4,"r":29,"v":0.45},{"c":5,"r":29,"v":0.95},{"c":6,"r":29,"v":0.7},{"c":7,"r":29,"v":0.5},{"c":8,"r":29,"v":0.4},{"c":9,"r":29,"v":0.33},{"c":10,"r":29,"v":0.27},{"c":11,"r":29,"v":0.35},{"c":12,"r":29,"v":0.6},{"c":13,"r":29,"v":0.75},{"c":14,"r":29,"v":0.8},{"c":15,"r":29,"v":0.78},{"c":16,"r":29,"v":0.82},{"c":17,"r":29,"v":0.85},{"c":18,"r":29,"v":0.95},{"c":19,"r":29,"v":0.75},{"c":20,"r":29,"v":0.45},{"c":21,"r":29,"v":0.37},{"c":22,"r":29,"v":0.31},{"c":23,"r":29,"v":0.25},{"c":24,"r":29,"v":0.25},{"c":25,"r":29,"v":0.45},{"c":26,"r":29,"v":0.95},{"c":27,"r":29,"v":2},{"c":28,"r":29,"v":2},{"c":29,"r":29,"v":2},{"c":30,"r":29,"v":0.5},{"c":31,"r":29,"v":0.6}
]},
"encoding":{
"x":{"field":"c","type":"ordinal","axis":null,"scale":{"paddingInner":0,"paddingOuter":0}},
"y":{"field":"r","type":"ordinal","axis":null,"scale":{"paddingInner":0,"paddingOuter":0}},
"color":{"field":"v","type":"quantitative","scale":{"domain":[0,0.22,0.73,1.24,1.746,2],"range":["#00008f","#0000ff","#00ffff","#ffff00","#ff0000","#800000"]},
"legend":{"orient":"none","legendX":460,"legendY":0,"title":null,"type":"gradient","direction":"vertical","gradientLength":412,"gradientThickness":31,"gradientStrokeColor":"black","gradientStrokeWidth":1,"values":[0,0.2,0.4,0.6,0.8,1,1.2,1.4,1.6,1.8,2],"labelFont":"Liberation Sans","labelFontSize":15,"labelColor":"#222222","labelOffset":3,"labelOverlap":false,"format":"~g","encoding":{"labels":{"baseline":{"value":"middle"}},"gradient":{"opacity":{"value":1}}}}}
},
"layer":[
{"mark":{"type":"rect","clip":true,"width":14.4,"height":14.6}},
{"mark":{"type":"rect","clip":true,"xOffset":3.4,"yOffset":0,"opacity":0.5}},
{"mark":{"type":"rect","clip":true,"xOffset":-3.4,"yOffset":0,"opacity":0.3333}},
{"mark":{"type":"rect","clip":true,"xOffset":-6.8,"yOffset":0,"opacity":0.25}},
{"mark":{"type":"rect","clip":true,"xOffset":0,"yOffset":3.4,"opacity":0.2}},
{"mark":{"type":"rect","clip":true,"xOffset":3.4,"yOffset":3.4,"opacity":0.1667}},
{"mark":{"type":"rect","clip":true,"xOffset":-3.4,"yOffset":3.4,"opacity":0.1429}},
{"mark":{"type":"rect","clip":true,"xOffset":-6.8,"yOffset":3.4,"opacity":0.125}},
{"mark":{"type":"rect","clip":true,"xOffset":0,"yOffset":-3.4,"opacity":0.1111}},
{"mark":{"type":"rect","clip":true,"xOffset":3.4,"yOffset":-3.4,"opacity":0.1}},
{"mark":{"type":"rect","clip":true,"xOffset":-3.4,"yOffset":-3.4,"opacity":0.0909}},
{"mark":{"type":"rect","clip":true,"xOffset":-6.8,"yOffset":-3.4,"opacity":0.0833}},
{"mark":{"type":"rect","clip":true,"xOffset":0,"yOffset":-6.8,"opacity":0.0769}},
{"mark":{"type":"rect","clip":true,"xOffset":3.4,"yOffset":-6.8,"opacity":0.0714}},
{"mark":{"type":"rect","clip":true,"xOffset":-3.4,"yOffset":-6.8,"opacity":0.0667}},
{"mark":{"type":"rect","clip":true,"xOffset":-6.8,"yOffset":-6.8,"opacity":0.0625}},
{"transform":[{"filter":"datum.v==2 && datum.r<=2 && datum.c>=29"}],"mark":{"type":"rect","clip":true,"width":14.4,"height":14.6}},
{"transform":[{"filter":"datum.v==2 && datum.r==29"}],"mark":{"type":"rect","clip":true,"width":22.7,"height":30.4,"xOffset":-4.15}}
]}
],
"config":{"view":{"stroke":null}}}
